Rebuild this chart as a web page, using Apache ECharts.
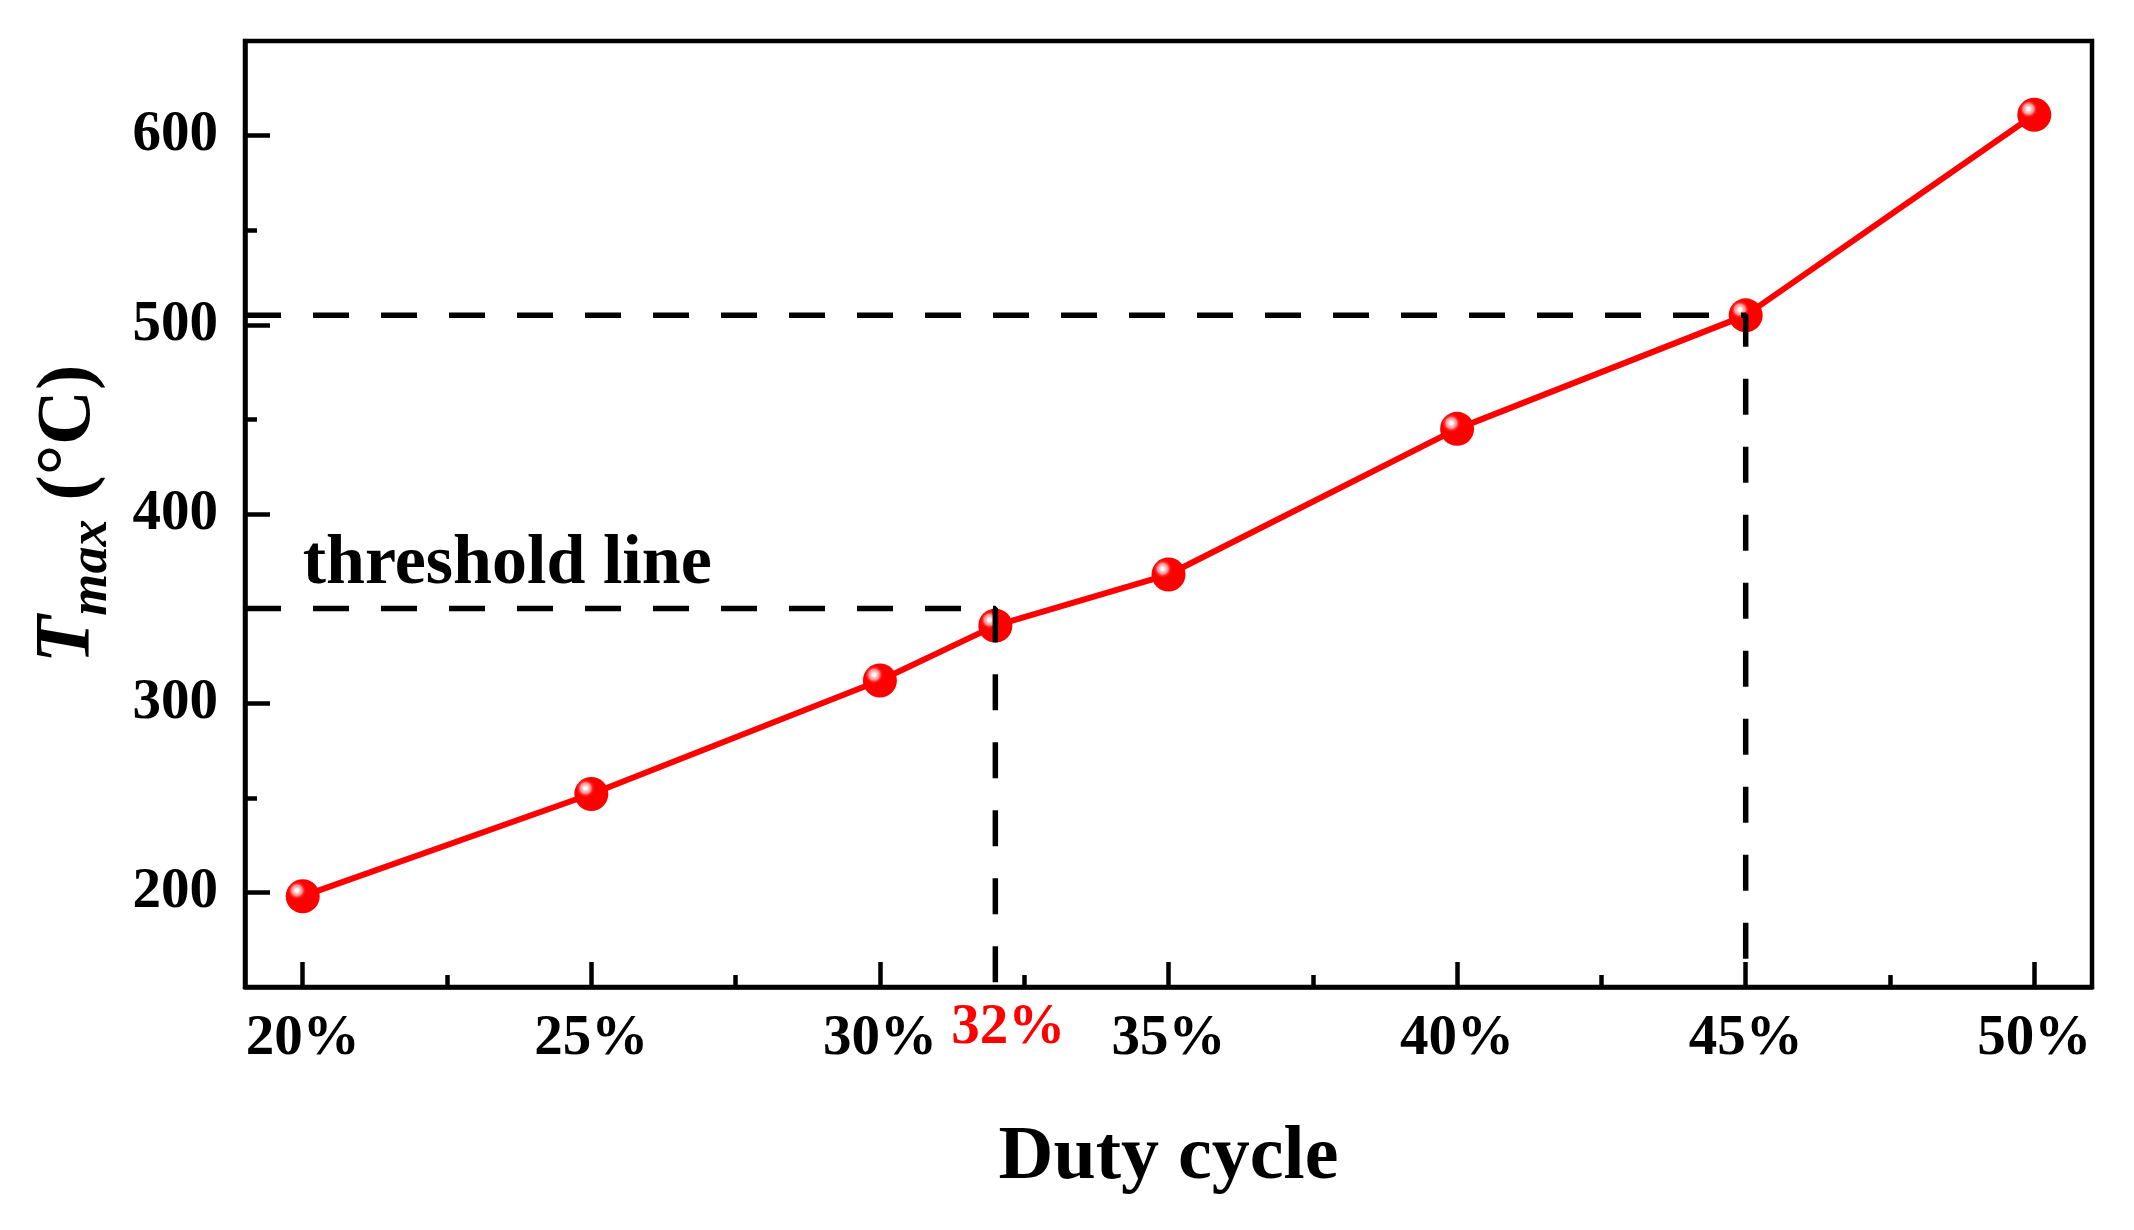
<!DOCTYPE html>
<html>
<head>
<meta charset="utf-8">
<script src="https://cdn.jsdelivr.net/npm/echarts@6/dist/echarts.min.js"></script>
<style>
html,body{margin:0;padding:0;background:#fff;}
#chart{width:2134px;height:1230px;}
</style>
</head>
<body>
<div id="chart"></div>
<script>
// ---- data ----
const dutyCycle = [20, 25, 30, 32, 35, 40, 45, 50];
const tMax = [198, 252, 312, 341, 368, 445, 505, 611];
const xMajorTicks = [20, 25, 30, 35, 40, 45, 50];
const xMinorTicks = [22.5, 27.5, 32.5, 37.5, 42.5, 47.5];
const xHighlightTick = [32];
const yMajorTicks = [200, 300, 400, 500, 600];
const yMinorTicks = [250, 350, 450, 550];
const xRange = [19, 51];
const yRange = [150, 650];
const thresholdValue = 350;
const thresholdDuty = 32;
const upperValue = 505;
const upperDuty = 45;
const thresholdText = 'threshold line';
const thresholdTextAt = [20, 373];

const FONT = '"Liberation Serif", "Times New Roman", serif';

const thresholdPath = [[xRange[0], thresholdValue], [thresholdDuty, thresholdValue], [thresholdDuty, yRange[0]]];
const upperPath = [[xRange[0], upperValue], [upperDuty, upperValue], [upperDuty, yRange[0]]];

const chart = echarts.init(document.getElementById('chart'), null, {renderer: 'canvas'});

const dashStyle = {color: '#000', width: 5.5, type: [36, 32]};

const baseX = {
  type: 'value', min: xRange[0], max: xRange[1], position: 'bottom', offset: 0,
  splitLine: {show: false}
};
const baseY = {
  type: 'value', min: yRange[0], max: yRange[1], position: 'left', offset: 0,
  splitLine: {show: false}
};

const option = {
  backgroundColor: '#fff',
  animation: false,
  grid: {left: 245, right: 42, top: 41, bottom: 243, show: true, borderColor: '#000', borderWidth: 4.5, backgroundColor: 'transparent'},
  xAxis: [
    Object.assign({}, baseX, {
      name: 'Duty cycle', nameLocation: 'middle', nameGap: 133,
      nameTextStyle: {fontFamily: FONT, fontWeight: 'bold', fontSize: 76, color: '#000'},
      axisLine: {show: true, lineStyle: {color: '#000', width: 4.5}},
      axisTick: {show: true, inside: true, length: 25, customValues: xMajorTicks, lineStyle: {color: '#000', width: 4.5}},
      axisLabel: {show: true, customValues: xMajorTicks, margin: 24, formatter: v => v + '%',
        fontFamily: FONT, fontWeight: 'bold', fontSize: 57, color: '#000'}
    }),
    Object.assign({}, baseX, {
      axisLine: {show: false},
      axisTick: {show: true, inside: true, length: 12, customValues: xMinorTicks, lineStyle: {color: '#000', width: 4.5}},
      axisLabel: {show: false}
    }),
    Object.assign({}, baseX, {
      axisLine: {show: false},
      axisTick: {show: false},
      axisLabel: {show: true, customValues: xHighlightTick, margin: 13, formatter: v => '{r|' + v + '%}',
        rich: {r: {fontFamily: FONT, fontWeight: 'bold', fontSize: 57, color: '#ff0000', padding: [0, 0, 0, 26]}}}
    })
  ],
  yAxis: [
    Object.assign({}, baseY, {
      name: '{t|T}{s|max}{n| (°C)}', nameLocation: 'middle', nameGap: 138,
      nameTextStyle: {
        rich: {
          t: {fontFamily: FONT, fontWeight: 'bold', fontStyle: 'italic', fontSize: 78, color: '#000', verticalAlign: 'bottom'},
          s: {fontFamily: FONT, fontWeight: 'bold', fontStyle: 'italic', fontSize: 54, color: '#000', verticalAlign: 'bottom', padding: [0, 0, -12, 0]},
          n: {fontFamily: FONT, fontWeight: 'bold', fontSize: 76, color: '#000', verticalAlign: 'bottom'}
        }
      },
      axisLine: {show: true, lineStyle: {color: '#000', width: 4.5}},
      axisTick: {show: true, inside: true, length: 25, customValues: yMajorTicks, lineStyle: {color: '#000', width: 4.5}},
      axisLabel: {show: true, customValues: yMajorTicks, margin: 27,
        fontFamily: FONT, fontWeight: 'bold', fontSize: 57, color: '#000'}
    }),
    Object.assign({}, baseY, {
      axisLine: {show: false},
      axisTick: {show: true, inside: true, length: 12, customValues: yMinorTicks, lineStyle: {color: '#000', width: 4.5}},
      axisLabel: {show: false}
    })
  ],
  series: [
    {
      type: 'line', xAxisIndex: 0, yAxisIndex: 0, z: 2,
      data: dutyCycle.map((d, i) => [d, tMax[i]]),
      lineStyle: {color: '#ff0000', width: 6},
      symbol: 'circle', symbolSize: 34,
      itemStyle: {
        color: {
          type: 'radial', x: 0.33, y: 0.33, r: 0.7,
          colorStops: [
            {offset: 0, color: '#ffffff'},
            {offset: 0.07, color: '#ffffff'},
            {offset: 0.12, color: '#ffc8c8'},
            {offset: 0.22, color: '#ff9090'},
            {offset: 0.3, color: '#ff2020'},
            {offset: 0.38, color: '#ff0000'},
            {offset: 1, color: '#ff0000'}
          ]
        },
        borderWidth: 0
      },
      emphasis: {disabled: true}
    },
    {
      type: 'line', xAxisIndex: 0, yAxisIndex: 0, z: 5,
      data: thresholdPath, symbol: 'none', lineStyle: dashStyle, emphasis: {disabled: true}
    },
    {
      type: 'line', xAxisIndex: 0, yAxisIndex: 0, z: 5,
      data: upperPath, symbol: 'none', lineStyle: dashStyle, emphasis: {disabled: true}
    },
    {
      type: 'scatter', xAxisIndex: 0, yAxisIndex: 0, z: 6,
      data: [thresholdTextAt], symbolSize: 0,
      itemStyle: {opacity: 1},
      label: {show: true, position: 'right', distance: 0, formatter: thresholdText,
        fontFamily: FONT, fontWeight: 'bold', fontSize: 70, color: '#000', opacity: 1},
      emphasis: {disabled: true}
    }
  ]
};
chart.setOption(option);
</script>
</body>
</html>
